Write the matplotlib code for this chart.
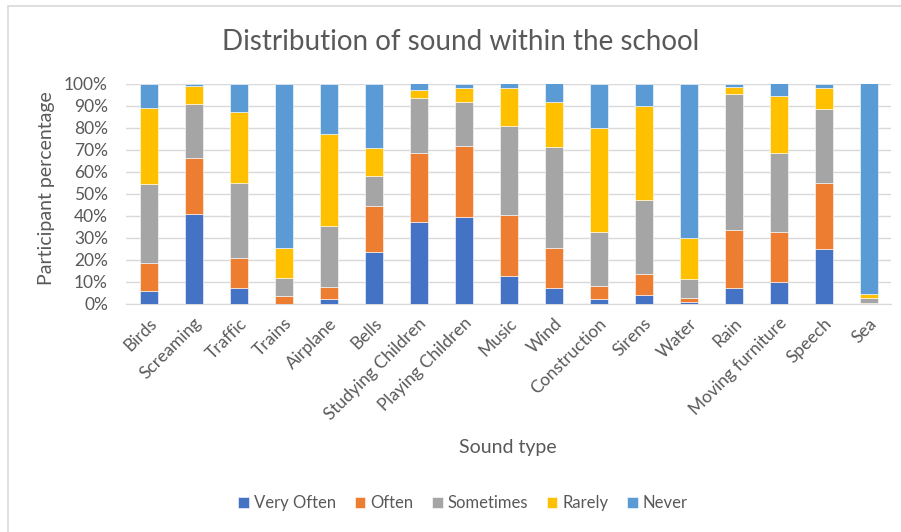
import numpy as np
import matplotlib
matplotlib.use("Agg")
import matplotlib.pyplot as plt
from matplotlib.patches import Rectangle

plt.rcParams['font.family'] = ['Lato', 'DejaVu Sans']

sounds = ["Birds", "Screaming", "Traffic", "Trains", "Airplane", "Bells",
          "Studying Children", "Playing Children", "Music", "Wind",
          "Construction", "Sirens", "Water", "Rain", "Moving furniture",
          "Speech", "Sea"]

# share of answers per sound (percent)
very_often = [5.7, 40.9, 7.3, 0.0, 2.3, 23.7, 37.0, 39.3, 12.8, 7.3, 2.4, 3.9, 0.8, 7.3, 9.8, 24.8, 0.0]
often = [12.7, 25.1, 13.7, 3.5, 5.3, 20.6, 31.3, 32.3, 27.4, 18.1, 5.6, 9.5, 1.9, 26.1, 22.8, 30.0, 0.6]
sometimes = [36.0, 24.5, 33.8, 8.1, 27.6, 13.9, 24.9, 19.8, 40.3, 45.7, 24.8, 33.6, 8.8, 61.8, 35.8, 33.6, 2.1]
rarely = [34.3, 8.5, 32.4, 13.9, 41.8, 12.5, 3.9, 6.6, 17.5, 20.6, 47.1, 43.0, 18.4, 3.3, 26.0, 9.5, 2.0]
never = [11.3, 1.0, 12.8, 74.5, 23.0, 29.3, 2.9, 2.0, 2.0, 8.3, 20.1, 10.0, 70.1, 1.5, 5.6, 2.1, 95.3]

series = [("Very Often", very_often, "#4472C4"),
          ("Often", often, "#ED7D31"),
          ("Sometimes", sometimes, "#A5A5A5"),
          ("Rarely", rarely, "#FFC000"),
          ("Never", never, "#5B9BD5")]

W, H = 901, 532
fig = plt.figure(figsize=(W / 100, H / 100), dpi=100)
ax = fig.add_axes([126 / W, 1 - 304 / H, (891 - 126) / W, (304 - 83.5) / H])

x = np.arange(len(sounds))
bottom = np.zeros(len(sounds))
for name, vals, col in series:
    vals = np.array(vals)
    ax.bar(x, vals, 0.4, bottom=bottom, color=col, label=name,
           edgecolor="white", linewidth=0.4, zorder=3)
    bottom += vals

txt = "#595959"
ax.set_xlim(-0.5, len(sounds) - 0.5)
ax.set_ylim(0, 100)
ax.set_yticks(np.arange(0, 101, 10))
ax.set_yticklabels([f"{v}%" for v in range(0, 101, 10)], fontsize=12.5, color=txt)
ax.set_xticks(x)
ax.set_xticklabels(sounds, rotation=45, ha="right", rotation_mode="anchor",
                   fontsize=12.5, color=txt)
ax.tick_params(axis="y", length=0, pad=13)
ax.tick_params(axis="x", length=0, pad=8)
ax.grid(axis="y", color="#D9D9D9", linewidth=1, zorder=0)
for s in ax.spines.values():
    s.set_visible(False)
ax.spines["bottom"].set_visible(True)
ax.spines["bottom"].set_color("#D9D9D9")

fig.text(461 / W, 1 - 42 / H, "Distribution of sound within the school",
         ha="center", va="center", fontsize=20, color=txt)
fig.text(47 / W, 1 - 188 / H, "Participant percentage", rotation=90,
         ha="center", va="center", fontsize=14, color=txt)
fig.text(508 / W, 1 - 447 / H, "Sound type", ha="center", va="center",
         fontsize=14, color=txt)

leg = fig.legend(loc="center", bbox_to_anchor=(463 / W, 1 - 503 / H), ncol=5,
                 frameon=False, fontsize=12, handlelength=0.65, handleheight=0.65,
                 handletextpad=0.3, columnspacing=1.1)
for t in leg.get_texts():
    t.set_color(txt)

fig.patches.append(Rectangle((8 / W, -0.1), 1.1, 1 - 6 / H + 0.1,
                             transform=fig.transFigure, fill=False,
                             edgecolor="#D9D9D9", linewidth=1.2))

fig.savefig("out.png", dpi=100)
